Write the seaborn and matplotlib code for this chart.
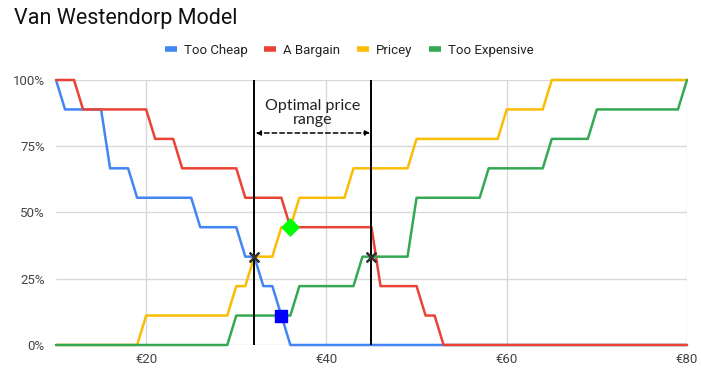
import matplotlib
matplotlib.use("Agg")
import matplotlib.pyplot as plt
import seaborn as sns
import pandas as pd

# price points (EUR) and respondent counts out of 9
prices = list(range(10, 81))
n_respondents = 9

too_cheap = [9, 8, 8, 8, 8, 8, 6, 6, 6, 5,
             5, 5, 5, 5, 5, 5, 4, 4, 4, 4,
             4, 3, 3, 2, 2, 1, 0, 0, 0, 0,
             0, 0, 0, 0, 0, 0, 0, 0, 0, 0,
             0, 0, 0, 0, 0, 0, 0, 0, 0, 0,
             0, 0, 0, 0, 0, 0, 0, 0, 0, 0,
             0, 0, 0, 0, 0, 0, 0, 0, 0, 0,
             0]
a_bargain = [9, 9, 9, 8, 8, 8, 8, 8, 8, 8,
             8, 7, 7, 7, 6, 6, 6, 6, 6, 6,
             6, 5, 5, 5, 5, 5, 4, 4, 4, 4,
             4, 4, 4, 4, 4, 4, 2, 2, 2, 2,
             2, 1, 1, 0, 0, 0, 0, 0, 0, 0,
             0, 0, 0, 0, 0, 0, 0, 0, 0, 0,
             0, 0, 0, 0, 0, 0, 0, 0, 0, 0,
             0]
pricey = [0, 0, 0, 0, 0, 0, 0, 0, 0, 0,
          1, 1, 1, 1, 1, 1, 1, 1, 1, 1,
          2, 2, 3, 3, 3, 4, 4, 5, 5, 5,
          5, 5, 5, 6, 6, 6, 6, 6, 6, 6,
          7, 7, 7, 7, 7, 7, 7, 7, 7, 7,
          8, 8, 8, 8, 8, 9, 9, 9, 9, 9,
          9, 9, 9, 9, 9, 9, 9, 9, 9, 9,
          9]
too_expensive = [0, 0, 0, 0, 0, 0, 0, 0, 0, 0,
                 0, 0, 0, 0, 0, 0, 0, 0, 0, 0,
                 1, 1, 1, 1, 1, 1, 1, 2, 2, 2,
                 2, 2, 2, 2, 3, 3, 3, 3, 3, 3,
                 5, 5, 5, 5, 5, 5, 5, 5, 6, 6,
                 6, 6, 6, 6, 6, 7, 7, 7, 7, 7,
                 8, 8, 8, 8, 8, 8, 8, 8, 8, 8,
                 9]

series_names = ["Too Cheap", "A Bargain", "Pricey", "Too Expensive"]
series_colors = ["#4285F4", "#EA4335", "#FBBC04", "#34A853"]

# highlighted intersection points
star_prices = [32, 45]
star_counts = [3, 3]
square_price = [35]
square_count = [1]
diamond_price = [36]
diamond_count = [4]

x_ticks = [20, 40, 60, 80]
y_ticks = [0, 0.25, 0.5, 0.75, 1.0]

rows = []
for name, vals in zip(series_names, [too_cheap, a_bargain, pricey, too_expensive]):
    for p, v in zip(prices, vals):
        rows.append({"price": p, "share": v / n_respondents, "series": name})
df = pd.DataFrame(rows)

sns.set_style("white")
plt.rcParams['font.family'] = ['Roboto', 'DejaVu Sans']

fig = plt.figure(figsize=(7.01, 3.71), dpi=100)
ax = fig.add_axes([0.0799, 0.0701, 0.9001, 0.7143])

sns.lineplot(data=df, x="price", y="share", hue="series", hue_order=series_names,
             palette=series_colors, linewidth=1.8, ax=ax, clip_on=False)

# optimal price range bounds
for p in star_prices:
    ax.axvline(p, color="black", linewidth=1.4, zorder=4)

ax.scatter(star_prices, [c / n_respondents for c in star_counts], marker=(4, 2, 45),
           s=70, color="#333333", zorder=6, linewidths=1.6)
ax.scatter(square_price, [c / n_respondents for c in square_count], marker="s",
           s=80, color="#0000FF", zorder=6)
ax.scatter(diamond_price, [c / n_respondents for c in diamond_count], marker="D",
           s=75, color="#00FF00", zorder=6)

ax.annotate("", xy=(star_prices[0], 0.8), xytext=(star_prices[1], 0.8),
            arrowprops=dict(arrowstyle="<|-|>", linestyle=(0, (3, 2)), color="black",
                            linewidth=1.1, mutation_scale=7, shrinkA=1, shrinkB=1))
ax.text((star_prices[0] + star_prices[1]) / 2, 0.876, "Optimal price\nrange",
        ha="center", va="center", fontsize=11.5, family=["Lato", "DejaVu Sans"],
        color="#222222", linespacing=0.95)

ax.set_xlim(10, 80)
ax.set_ylim(0, 1)
ax.set_xticks(x_ticks)
ax.set_xticklabels([f"€{t}" for t in x_ticks])
ax.set_yticks(y_ticks)
ax.set_yticklabels([f"{int(t * 100)}%" for t in y_ticks])
ax.tick_params(length=0, labelsize=9.5, labelcolor="#444444")
ax.tick_params(axis="x", pad=6)
ax.tick_params(axis="y", pad=8)
ax.set_xlabel("")
ax.set_ylabel("")
ax.grid(True, color="#d9d9d9", linewidth=1)
for s in ax.spines.values():
    s.set_visible(False)

handles, labels = ax.get_legend_handles_labels()
leg = ax.legend(handles, labels, loc="center", bbox_to_anchor=(0.498, 0.865),
                bbox_transform=fig.transFigure, ncol=4, frameon=False,
                fontsize=9.5, handlelength=0.9, columnspacing=1.3, handletextpad=0.5)
for line in leg.get_lines():
    line.set_linewidth(4)
    line.set_solid_capstyle("butt")
for t in leg.get_texts():
    t.set_color("#222222")

fig.text(0.02, 0.95, "Van Westendorp Model", fontsize=15.5, color="#111111",
         ha="left", va="center")

fig.savefig("out.png", dpi=100)
